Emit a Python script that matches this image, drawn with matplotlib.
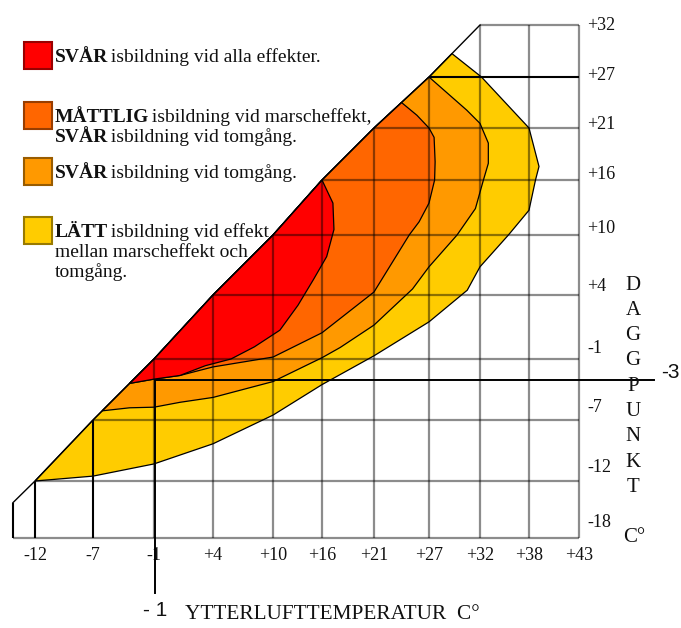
import numpy as np
import matplotlib
matplotlib.use('Agg')
import matplotlib.pyplot as plt
import matplotlib.transforms as mtransforms
from matplotlib.patches import Polygon, Rectangle

W, H = 681, 628

# the chart grid is spaced in deg F, the printed labels are deg C
temp_ticks = [10, 20, 30, 40, 50, 60, 70, 80, 90, 100, 110]
temp_labels = ['-12', '-7', '-1', '+4', '+10', '+16', '+21', '+27', '+32', '+38', '+43']
dew_ticks = [0, 10, 20, 30, 40, 50, 60, 70, 80, 90]
dew_labels = ['-18', '-12', '-7', '-1', '+4', '+10', '+16', '+21', '+27', '+32']

# region edges (temp F, dewpoint F), from the saturation line round to the saturation line
yellow_t = [10, 20, 30, 40, 50, 60, 70, 80, 87.5, 90, 95.8, 100, 101.3, 102, 100, 90.3, 84.5]
yellow_d = [10, 10.8, 12.8, 16.1, 20.8, 25.8, 30.5, 35.8, 40.8, 44.7, 50, 54.5, 60, 62.6, 70, 80, 84.5]
orange_t = [21.5, 26, 30, 34.4, 40, 50, 60, 63.5, 70, 77, 80, 85.5, 89.1, 90.7, 91.7, 91.7, 90, 87.4, 80]
orange_d = [21.5, 22, 22.1, 22.9, 23.7, 26.3, 30.2, 31.8, 35.3, 41, 44.7, 50, 54.8, 60, 63.2, 67.1, 70.9, 73.5, 80]
ored_t = [26, 30, 34.4, 40, 50, 60, 70, 76.4, 78.2, 80, 81.1, 81.2, 81, 80, 77.8, 75]
ored_d = [26, 26.7, 27.3, 28.7, 30.3, 34.1, 40.5, 50, 52.4, 55.8, 60, 63.5, 68.2, 70, 72.5, 75]
red_t = [26, 30, 34.4, 38.7, 43, 46.9, 51.4, 55.1, 58.2, 60.9, 62.3, 62.1, 60]
red_d = [26, 26.7, 27.3, 28.9, 30, 31.9, 34.5, 38.4, 42.5, 46.4, 51, 55.8, 60]

region_colors = ['#ffcc00', '#ff9900', '#ff6600', '#ff0000']

legend_colors = ['#ff0000', '#ff6600', '#ff9900', '#ffcc00']
legend_lines = [
    [('SVÅR', ' isbildning vid alla effekter.')],
    [('MÅTTLIG', ' isbildning vid marscheffekt,'), ('SVÅR', ' isbildning vid tomgång.')],
    [('SVÅR', ' isbildning vid tomgång.')],
    [('LÄTT', ' isbildning vid effekt'), ('', 'mellan marscheffekt och'), ('', 'tomgång.')],
]

# worked example drawn on the chart
example_temp_c = -1
example_dew_c = -3


def c_to_f(c):
    return c * 9 / 5 + 32


# the printed grid is hand drawn, this is where each 10 F line really sits (px)
XCAL_F = np.arange(0, 150, 10)
XCAL_PX = np.array([-23, 35, 93, 154, 213, 273, 322, 374, 429, 480, 529, 579, 629, 679, 729])
YCAL_F = np.arange(-20, 110, 10)
YCAL_PX = H - np.array([652, 595, 538, 481, 420, 359, 295, 235, 180, 128, 77, 25, -27])

SERIF = 'Liberation Serif'
SANS = 'Liberation Sans'
INK = '#111111'

fig = plt.figure(figsize=(W / 100, H / 100), dpi=100)
ax = fig.add_axes([0, 0, 1, 1])
ax.set_xscale('function', functions=(lambda v: np.interp(v, XCAL_F, XCAL_PX),
                                     lambda u: np.interp(u, XCAL_PX, XCAL_F)))
ax.set_yscale('function', functions=(lambda v: np.interp(v, YCAL_F, YCAL_PX),
                                     lambda u: np.interp(u, YCAL_PX, YCAL_F)))

left_edge = 6.2
diag = [left_edge] + dew_ticks[1:]


def region(ts, ds, color):
    lo, hi = ts[0], ts[-1]
    back = [v for v in reversed(dew_ticks) if lo < v < hi]
    pts = list(zip(ts, ds)) + [(v, v) for v in back]
    ax.add_patch(Polygon(pts, closed=True, facecolor=color, edgecolor='k', lw=0.9, zorder=1))


region(yellow_t, yellow_d, region_colors[0])
region(orange_t, orange_d, region_colors[1])
region(ored_t, ored_d, region_colors[2])
region(red_t, red_d, region_colors[3])

# grid
gray = dict(color='k', alpha=0.45, lw=1.6, zorder=2, solid_capstyle='butt')
dark = dict(color='k', lw=1.5, zorder=3, solid_capstyle='butt')
for f in temp_ticks:
    style = dark if f in (10, 20) else gray
    ax.plot([f, f], [0, min(f, 90)], **style)
for f in dew_ticks:
    style = dark if f == 80 else gray
    ax.plot([max(f, left_edge), 110], [f, f], **style)
ax.plot([left_edge, left_edge], [0, left_edge], **dark)
ax.plot(diag, diag, color='k', lw=1.0, zorder=3)

# tick labels
for f, lab in zip(temp_ticks, temp_labels):
    ax.annotate(lab, (f, 0), xytext=(0, -12.5), textcoords='offset points',
                ha='center', va='center', fontsize=13, family=SERIF, color=INK)
for f, lab in zip(dew_ticks, dew_labels):
    ax.annotate(lab, (110, f), xytext=(6, (90 - f) * 0.125), textcoords='offset points',
                ha='left', va='center', fontsize=13, family=SERIF, color=INK)

# example: -1 C outside air, -3 C dew point
ex_t = c_to_f(example_temp_c)
ex_d = c_to_f(example_dew_c)
ax.plot([ex_t, ex_t], [ex_d, -9.6], color='k', lw=1.4, zorder=4)
ax.plot([ex_t, 125], [ex_d, ex_d], color='k', lw=1.4, zorder=4)
ax.annotate('- 1', (ex_t, -9.6), xytext=(0, -6), textcoords='offset points',
            ha='center', va='top', fontsize=15, family=SANS, color=INK)
ax.annotate('-3', (125, ex_d), xytext=(5, 5), textcoords='offset points',
            ha='left', va='center', fontsize=15, family=SANS, color=INK)

ax.set_xlim(np.interp(0, XCAL_PX, XCAL_F), np.interp(W, XCAL_PX, XCAL_F))
ax.set_ylim(np.interp(0, YCAL_PX, YCAL_F), np.interp(H, YCAL_PX, YCAL_F))
ax.axis('off')

# text placed in pixels from the top-left corner
top = mtransforms.Affine2D().scale(1, -1).translate(0, H)

for i, ch in enumerate('DAGGPUNKT'):
    fig.text(633, 285 + i * 25.3, ch, transform=top, ha='center', va='center',
             fontsize=15, family=SERIF, color=INK)
fig.text(634, 537, 'C°', transform=top, ha='center', va='center',
         fontsize=15, family=SERIF, color=INK)
fig.text(185, 619, 'YTTERLUFTTEMPERATUR  C°', transform=top, ha='left', va='baseline',
         fontsize=15.3, family=SERIF, color=INK)

# legend
rend = fig.canvas.get_renderer()
leg_tops = [42, 102, 158, 217]
for y0, col, lines in zip(leg_tops, legend_colors, legend_lines):
    edge = tuple(c * 0.6 for c in matplotlib.colors.to_rgb(col))
    fig.add_artist(Rectangle((24, y0), 28, 27, transform=top, facecolor=col,
                             edgecolor=edge, lw=1.5))
    for j, (bold, rest) in enumerate(lines):
        base = y0 + 20 + j * 20
        x = 55
        if bold:
            t = fig.text(x, base, bold, transform=top, va='baseline', fontsize=14,
                         family=SERIF, fontweight='bold', color=INK)
            x = t.get_window_extent(rend).x1 - 2
        fig.text(x, base, rest, transform=top, va='baseline', fontsize=14,
                 family=SERIF, color=INK)

fig.savefig('out.png', dpi=100, facecolor='white')
